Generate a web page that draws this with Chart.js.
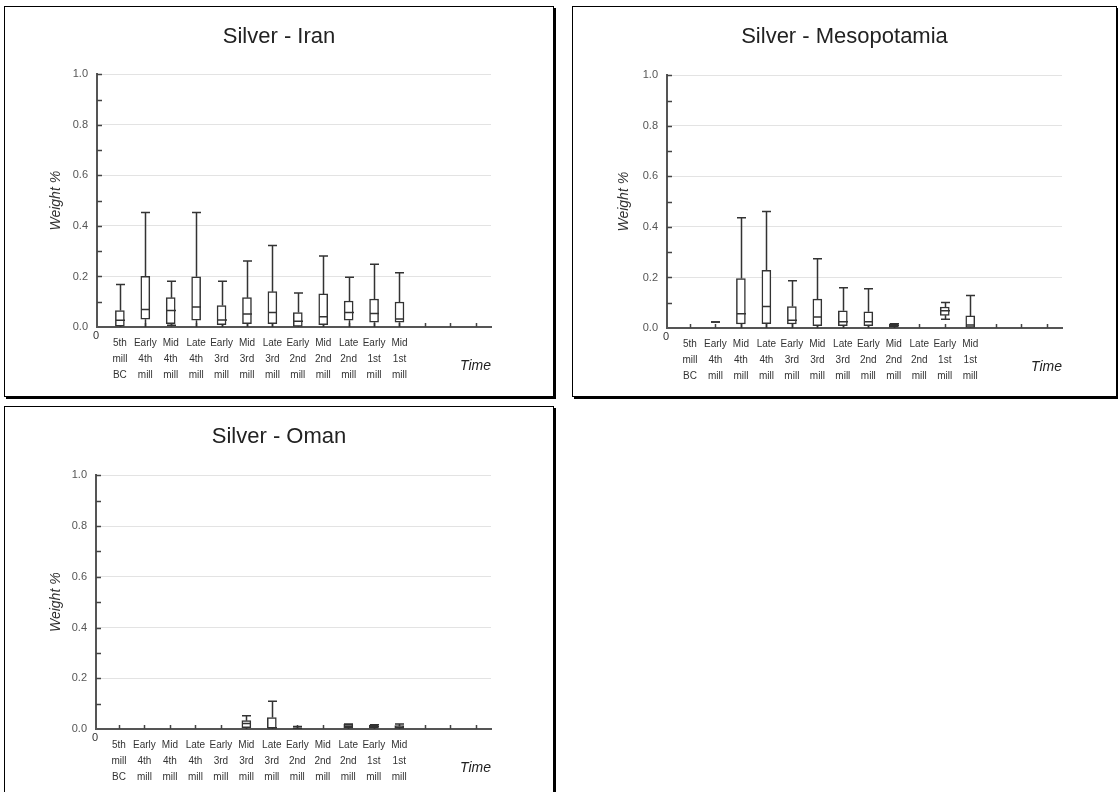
<!DOCTYPE html>
<html lang="en">
<head>
<meta charset="UTF-8">
<title>Silver - weight % by period</title>
<script src="https://cdn.jsdelivr.net/npm/chart.js@4"></script>
<style>
    body {
        margin: 0;
        background: #fff;
        width: 1118px;
        height: 792px;
        overflow: hidden;
        position: relative;
        font-family: "Liberation Sans", Arial, sans-serif;
    }
    .panel {
        position: absolute;
        border: 1px solid #000;
        box-shadow: 2px 2px 0 #000;
        background: #fff;
    }
    .panel canvas {
        display: block;
    }
</style>
</head>
<body>
<div class="panel" style="left:4px; top:6px; width:548px; height:389px;"><canvas id="iranChart"></canvas></div>
<div class="panel" style="left:572px; top:6px; width:543px; height:389px;"><canvas id="mesoChart"></canvas></div>
<div class="panel" style="left:4px; top:406px; width:548px; height:389px;"><canvas id="omanChart"></canvas></div>

<script>
    // periods on the time axis (positions 1..12, three empty slots follow)
    const periods = [
        ['5th', 'mill', 'BC'], ['Early', '4th', 'mill'], ['Mid', '4th', 'mill'], ['Late', '4th', 'mill'],
        ['Early', '3rd', 'mill'], ['Mid', '3rd', 'mill'], ['Late', '3rd', 'mill'], ['Early', '2nd', 'mill'],
        ['Mid', '2nd', 'mill'], ['Late', '2nd', 'mill'], ['Early', '1st', 'mill'], ['Mid', '1st', 'mill']
    ];
    const slotCount = 15;

    // Silver - Iran
    const iranMin    = [0, 0, 0.007, 0, 0, 0, 0, 0, 0, 0, 0, 0];
    const iranQ1     = [0.003, 0.031, 0.013, 0.027, 0.009, 0.013, 0.013, 0.002, 0.009, 0.027, 0.019, 0.019];
    const iranMedian = [0.027, 0.069, 0.065, 0.079, 0.028, 0.051, 0.057, 0.023, 0.041, 0.057, 0.053, 0.032];
    const iranQ3     = [0.065, 0.201, 0.116, 0.199, 0.085, 0.116, 0.140, 0.057, 0.131, 0.103, 0.111, 0.099];
    const iranMax    = [0.168, 0.453, 0.181, 0.453, 0.181, 0.261, 0.323, 0.135, 0.281, 0.197, 0.248, 0.215];

    // Silver - Mesopotamia
    const mesoMin    = [null, 0.024, 0, 0, 0, 0, 0, 0, 0, null, 0.035, 0];
    const mesoQ1     = [null, 0.024, 0.016, 0.017, 0.016, 0.009, 0.009, 0.009, 0.003, null, 0.050, 0];
    const mesoMedian = [null, 0.024, 0.056, 0.085, 0.031, 0.044, 0.025, 0.025, 0.010, null, 0.068, 0.012];
    const mesoQ3     = [null, 0.024, 0.196, 0.228, 0.085, 0.114, 0.068, 0.064, 0.017, null, 0.083, 0.048];
    const mesoMax    = [null, 0.024, 0.436, 0.461, 0.187, 0.274, 0.159, 0.155, 0.017, null, 0.101, 0.129];

    // Silver - Oman
    const omanMin    = [null, null, null, null, null, 0, 0, 0, null, 0, 0, 0];
    const omanQ1     = [null, null, null, null, null, 0.005, 0.003, 0.002, null, 0.003, 0.003, 0.002];
    const omanMedian = [null, null, null, null, null, 0.022, 0.005, 0.003, null, 0.011, 0.009, 0.007];
    const omanQ3     = [null, null, null, null, null, 0.033, 0.045, 0.004, null, 0.018, 0.015, 0.013];
    const omanMax    = [null, null, null, null, null, 0.052, 0.109, 0.010, null, 0.020, 0.017, 0.020];

    const BOX_W = 9;

    // whiskers, medians, inward tick marks and the loose axis texts
    const boxExtras = {
        id: 'boxExtras',
        beforeDatasetsDraw(chart, args, opts) {
            const {ctx, chartArea, scales: {x, y}} = chart;
            const s = opts.stats;
            ctx.save();
            ctx.strokeStyle = '#444';
            ctx.lineWidth = 1.5;
            ctx.beginPath();
            // tick marks pointing into the plot
            y.ticks.forEach(t => {
                if (t.value <= 0) return;
                const py = Math.round(y.getPixelForValue(t.value)) + 0.5;
                ctx.moveTo(chartArea.left, py);
                ctx.lineTo(chartArea.left + 5, py);
            });
            for (let k = 1; k <= slotCount; k++) {
                const px = Math.round(x.getPixelForValue(k)) + 0.5;
                ctx.moveTo(px, chartArea.bottom);
                ctx.lineTo(px, chartArea.bottom - 4);
            }
            ctx.stroke();

            ctx.strokeStyle = '#333';
            ctx.beginPath();
            s.q3.forEach((q3, i) => {
                if (q3 === null) return;
                const px = Math.round(x.getPixelForValue(i + 1)) + 0.5;
                const yMax = y.getPixelForValue(s.max[i]);
                const yMin = y.getPixelForValue(s.min[i]);
                ctx.moveTo(px, y.getPixelForValue(q3));
                ctx.lineTo(px, yMax);
                ctx.moveTo(px - BOX_W / 2, yMax);
                ctx.lineTo(px + BOX_W / 2, yMax);
                ctx.moveTo(px, y.getPixelForValue(s.q1[i]));
                ctx.lineTo(px, yMin);
                if (s.min[i] > 0) {
                    ctx.moveTo(px - BOX_W / 2, yMin);
                    ctx.lineTo(px + BOX_W / 2, yMin);
                }
            });
            ctx.stroke();
            ctx.restore();
        },
        afterDatasetsDraw(chart, args, opts) {
            const {ctx, scales: {x, y}} = chart;
            const s = opts.stats;
            ctx.save();
            ctx.strokeStyle = '#333';
            ctx.lineWidth = 1.5;
            ctx.beginPath();
            s.median.forEach((m, i) => {
                if (m === null) return;
                const px = Math.round(x.getPixelForValue(i + 1)) + 0.5;
                const py = y.getPixelForValue(m);
                ctx.moveTo(px - BOX_W / 2, py);
                ctx.lineTo(px + BOX_W / 2, py);
            });
            ctx.stroke();
            ctx.restore();
        },
        afterDraw(chart) {
            const {ctx, chartArea} = chart;
            ctx.save();
            ctx.fillStyle = '#333';
            ctx.textBaseline = 'middle';
            ctx.textAlign = 'center';
            ctx.font = '11px "Liberation Sans", Arial, sans-serif';
            ctx.fillText('0', chartArea.left - 1, chartArea.bottom + 9);
            ctx.textAlign = 'right';
            ctx.fillStyle = '#222';
            ctx.font = 'italic 14px "Liberation Sans", Arial, sans-serif';
            ctx.fillText('Time', chartArea.right, chartArea.bottom + 39);
            ctx.restore();
        }
    };

    function boxData(q1s, q3s) {
        const rows = [];
        q1s.forEach((q1, i) => {
            if (q1 !== null) rows.push({x: i + 1, y: [q1, q3s[i]]});
        });
        return rows;
    }

    function makeChart(id, title, stats, lay) {
        new Chart(document.getElementById(id), {
            type: 'bar',
            data: {
                datasets: [{
                    data: boxData(stats.q1, stats.q3),
                    backgroundColor: '#fff',
                    borderColor: '#333',
                    borderWidth: 1.5,
                    borderSkipped: false,
                    barThickness: BOX_W
                }]
            },
            plugins: [boxExtras],
            options: {
                responsive: true,
                maintainAspectRatio: false,
                animation: false,
                layout: {padding: {left: 0, right: 0, top: 0, bottom: lay.bottom}},
                plugins: {
                    legend: {display: false},
                    tooltip: {enabled: false},
                    title: {
                        display: true,
                        text: title,
                        color: '#222',
                        font: {size: 22, weight: 'normal', family: '"Liberation Sans", Arial, sans-serif'},
                        padding: {top: 17, bottom: lay.titleBottom}
                    },
                    boxExtras: {stats: stats}
                },
                scales: {
                    x: {
                        type: 'linear',
                        offset: false,
                        min: 0.1,
                        max: slotCount + 0.6,
                        afterBuildTicks: scale => {
                            scale.ticks = periods.map((p, i) => ({value: i + 1}));
                        },
                        afterFit: scale => { scale.height = 60; },
                        grid: {color: 'transparent', drawTicks: false},
                        border: {display: true, color: '#555', width: 2},
                        ticks: {
                            autoSkip: false,
                            maxRotation: 0,
                            padding: 8,
                            color: '#333',
                            font: {size: 10, lineHeight: 1.6, family: '"Liberation Sans", Arial, sans-serif'},
                            callback: value => periods[Math.round(value) - 1] || ''
                        }
                    },
                    y: {
                        min: 0,
                        max: 1,
                        afterFit: scale => { scale.width = lay.yWidth; },
                        grid: {
                            drawTicks: false,
                            color: c => (c.tick && c.tick.value > 0.01 && Math.round(c.tick.value * 10) % 2 === 0) ? '#e3e3e3' : 'transparent'
                        },
                        border: {display: true, color: '#555', width: 2},
                        ticks: {
                            stepSize: 0.1,
                            padding: 9,
                            color: '#555',
                            font: {size: 11, family: '"Liberation Sans", Arial, sans-serif'},
                            callback: value => Math.round(value * 10) % 2 === 0 ? value.toFixed(1) : ''
                        },
                        title: {
                            display: true,
                            text: 'Weight %',
                            color: '#333',
                            font: {size: 14, style: 'italic', family: '"Liberation Sans", Arial, sans-serif'},
                            padding: {top: 43, bottom: 0}
                        }
                    },
                    // empty right-hand margin so the title centres on the whole panel
                    yRight: {
                        position: 'right',
                        min: 0,
                        max: 1,
                        afterFit: scale => { scale.width = lay.right; },
                        grid: {display: false, drawTicks: false},
                        border: {display: false},
                        ticks: {display: false}
                    }
                }
            }
        });
    }

    makeChart('iranChart', 'Silver - Iran',
        {min: iranMin, q1: iranQ1, median: iranMedian, q3: iranQ3, max: iranMax},
        {right: 62, bottom: 9, yWidth: 92, titleBottom: 24});
    makeChart('mesoChart', 'Silver - Mesopotamia',
        {min: mesoMin, q1: mesoQ1, median: mesoMedian, q3: mesoQ3, max: mesoMax},
        {right: 54, bottom: 8, yWidth: 94, titleBottom: 25});
    makeChart('omanChart', 'Silver - Oman',
        {min: omanMin, q1: omanQ1, median: omanMedian, q3: omanQ3, max: omanMax},
        {right: 62, bottom: 7, yWidth: 91, titleBottom: 25});
</script>
</body>
</html>
